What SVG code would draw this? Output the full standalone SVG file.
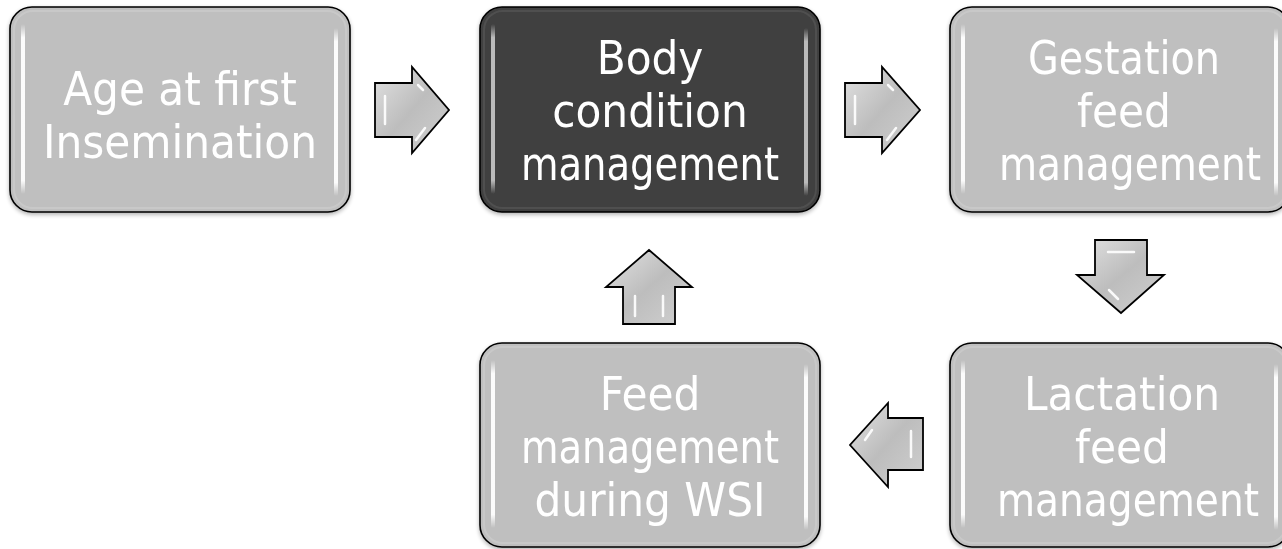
<svg xmlns="http://www.w3.org/2000/svg" width="1282" height="549" viewBox="0 0 1282 549">
<defs>
  <linearGradient id="hl" x1="0" y1="0" x2="0" y2="1">
    <stop offset="0" stop-color="#fff" stop-opacity="0"/>
    <stop offset="0.08" stop-color="#fff" stop-opacity="0.95"/>
    <stop offset="0.92" stop-color="#fff" stop-opacity="0.95"/>
    <stop offset="1" stop-color="#fff" stop-opacity="0"/>
  </linearGradient>
  <linearGradient id="hlDark" x1="0" y1="0" x2="0" y2="1">
    <stop offset="0" stop-color="#c8c8c8" stop-opacity="0"/>
    <stop offset="0.08" stop-color="#c8c8c8" stop-opacity="0.9"/>
    <stop offset="0.92" stop-color="#c8c8c8" stop-opacity="0.9"/>
    <stop offset="1" stop-color="#c8c8c8" stop-opacity="0"/>
  </linearGradient>
  <linearGradient id="arrowFill" x1="0" y1="0" x2="1" y2="1">
    <stop offset="0" stop-color="#e2e2e2"/>
    <stop offset="0.5" stop-color="#bdbdbd"/>
    <stop offset="1" stop-color="#d0d0d0"/>
  </linearGradient>
  <filter id="sh" x="-5%" y="-5%" width="110%" height="115%">
    <feGaussianBlur in="SourceAlpha" stdDeviation="2"/>
    <feOffset dy="2"/>
    <feComponentTransfer><feFuncA type="linear" slope="0.3"/></feComponentTransfer>
    <feMerge><feMergeNode/><feMergeNode in="SourceGraphic"/></feMerge>
  </filter>
</defs>
<style>
  .box { fill: #bfbfbf; stroke: #000; stroke-width: 1.6; }
  .boxDark { fill: #404040; stroke: #000; stroke-width: 1.6; }
  .inner { fill: none; stroke: #cfcfcf; stroke-width: 2; stroke-opacity: 0.6; }
  .innerDark { fill: none; stroke: #555; stroke-width: 2; stroke-opacity: 0.7; }
  .bar { fill: url(#hl); }
  .barDark { fill: url(#hlDark); }
  .lbl { font-family: 'DejaVu Sans Condensed', 'DejaVu Sans', sans-serif; font-stretch: condensed; font-size: 47px; fill: #ffffff; text-anchor: middle; }
  .arrow { fill: url(#arrowFill); stroke: #000; stroke-width: 1.8; stroke-linejoin: miter; }
  .bevel { fill: none; stroke: #ffffff; stroke-width: 2.5; stroke-opacity: 0.9; stroke-linecap: round; }
</style>

<g id="node-age" filter="url(#sh)">
  <rect class="box" x="10" y="7" width="340" height="205" rx="22"/>
  <rect class="inner" x="14" y="11" width="332" height="197" rx="19"/>
  <rect class="bar" x="21" y="24" width="4" height="170" rx="2"/>
  <rect class="bar" x="334" y="28" width="4" height="168" rx="2"/>
  <text class="lbl" x="180" y="105">Age at first</text>
  <text class="lbl" x="180" y="158">Insemination</text>
</g>

<g id="node-body" filter="url(#sh)">
  <rect class="boxDark" x="480" y="7" width="340" height="205" rx="22"/>
  <rect class="innerDark" x="484" y="11" width="332" height="197" rx="19"/>
  <rect class="barDark" x="491" y="24" width="4" height="170" rx="2"/>
  <rect class="barDark" x="804" y="28" width="4" height="168" rx="2"/>
  <text class="lbl" x="650" y="74">Body</text>
  <text class="lbl" x="650" y="127">condition</text>
  <text class="lbl" x="650" y="180" textLength="258" lengthAdjust="spacingAndGlyphs">management</text>
</g>

<g id="node-gestation" filter="url(#sh)">
  <rect class="box" x="950" y="7" width="340" height="205" rx="22"/>
  <rect class="inner" x="954" y="11" width="332" height="197" rx="19"/>
  <rect class="bar" x="961" y="24" width="4" height="170" rx="2"/>
  <rect class="bar" x="1274" y="28" width="4" height="168" rx="2"/>
  <text class="lbl" x="1124" y="74" textLength="192" lengthAdjust="spacingAndGlyphs">Gestation</text>
  <text class="lbl" x="1124" y="127">feed</text>
  <text class="lbl" x="1130" y="180" textLength="262" lengthAdjust="spacingAndGlyphs">management</text>
</g>

<g id="node-lactation" filter="url(#sh)">
  <rect class="box" x="950" y="343" width="340" height="204" rx="22"/>
  <rect class="inner" x="954" y="347" width="332" height="196" rx="19"/>
  <rect class="bar" x="961" y="360" width="4" height="168" rx="2"/>
  <rect class="bar" x="1274" y="364" width="4" height="166" rx="2"/>
  <text class="lbl" x="1122" y="410">Lactation</text>
  <text class="lbl" x="1122" y="463">feed</text>
  <text class="lbl" x="1128" y="516" textLength="262" lengthAdjust="spacingAndGlyphs">management</text>
</g>

<g id="node-wsi" filter="url(#sh)">
  <rect class="box" x="480" y="343" width="340" height="204" rx="22"/>
  <rect class="inner" x="484" y="347" width="332" height="196" rx="19"/>
  <rect class="bar" x="491" y="360" width="4" height="168" rx="2"/>
  <rect class="bar" x="804" y="364" width="4" height="166" rx="2"/>
  <text class="lbl" x="650" y="410">Feed</text>
  <text class="lbl" x="650" y="463" textLength="258" lengthAdjust="spacingAndGlyphs">management</text>
  <text class="lbl" x="650" y="516">during WSI</text>
</g>

<g id="connectors">
  <g id="arrow-1">
    <polygon class="arrow" points="375,83 412,83 412,67 449,110 412,153 412,137 375,137"/>
    <path class="bevel" d="M385,96 L385,124"/>
    <path class="bevel" d="M418,85 L423,90"/>
    <path class="bevel" d="M425,128 L416,140"/>
  </g>
  <g id="arrow-2">
    <polygon class="arrow" points="845,83 882,83 882,67 920,110 882,153 882,137 845,137"/>
    <path class="bevel" d="M855,96 L855,124"/>
    <path class="bevel" d="M888,85 L893,90"/>
    <path class="bevel" d="M896,128 L887,140"/>
  </g>
  <g id="arrow-3">
    <polygon class="arrow" points="1095,240 1147,240 1147,275 1164,275 1121,313 1077,275 1095,275"/>
    <path class="bevel" d="M1108,252 L1134,252"/>
    <path class="bevel" d="M1109,290 L1118,299"/>
  </g>
  <g id="arrow-4">
    <polygon class="arrow" points="923,418 923,470 888,470 888,487 850,445 888,403 888,418"/>
    <path class="bevel" d="M911,431 L911,457"/>
    <path class="bevel" d="M872,430 L865,440"/>
  </g>
  <g id="arrow-5">
    <polygon class="arrow" points="623,324 675,324 675,287 692,287 649,250 606,287 623,287"/>
    <path class="bevel" d="M635,296 L635,316"/>
    <path class="bevel" d="M663,296 L663,316"/>
  </g>
</g>
</svg>
